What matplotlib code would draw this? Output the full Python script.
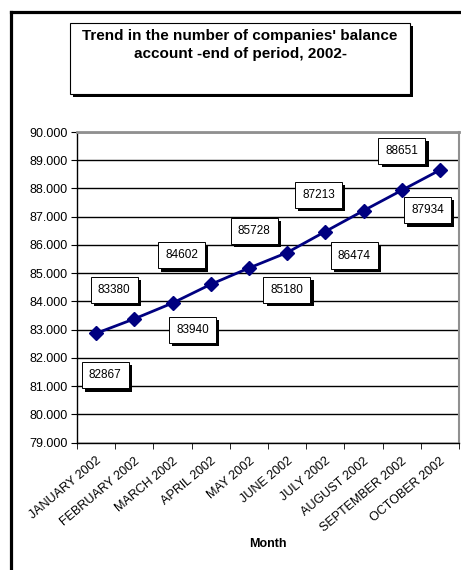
import numpy as np
import matplotlib
matplotlib.use("Agg")
import matplotlib.pyplot as plt
import matplotlib.patheffects as pe
from matplotlib.patches import Rectangle
from matplotlib.lines import Line2D
from matplotlib.ticker import FuncFormatter, FixedLocator

plt.rcParams['font.family'] = ['Liberation Sans', 'DejaVu Sans']

# data
months = ["JANUARY 2002", "FEBRUARY 2002", "MARCH 2002", "APRIL 2002", "MAY 2002",
          "JUNE 2002", "JULY 2002", "AUGUST 2002", "SEPTEMBER 2002", "OCTOBER 2002"]
companies = [82867, 83380, 83940, 84602, 85180, 85728, 86474, 87213, 87934, 88651]

# where each value box sits relative to its point (pixels)
label_offsets = [(9, -42), (-20, 29), (20, -27), (-29, 29), (38, -22),
                 (-33, 22), (29, -24), (-45, 16), (26, -20), (-38, 19)]

W, H = 461, 570
fig = plt.figure(figsize=(W / 100, H / 100), dpi=100)
fig.patch.set_facecolor('white')

# outer frame (only top and left show)
fig.add_artist(Line2D([11 / W, 11 / W], [0, 1 - 12 / H], color='black', lw=2.3, transform=fig.transFigure))
fig.add_artist(Line2D([11 / W, 1], [1 - 12 / H, 1 - 12 / H], color='black', lw=2.3, transform=fig.transFigure))

# title box with shadow
bx0, bx1, by0, by1 = 70, 410, 23, 94
fig.add_artist(Rectangle(((bx0 + 3) / W, 1 - (by1 + 3) / H), (bx1 - bx0) / W, (by1 - by0) / H,
                         transform=fig.transFigure, fc='black', ec='black', lw=0))
fig.add_artist(Rectangle((bx0 / W, 1 - by1 / H), (bx1 - bx0) / W, (by1 - by0) / H,
                         transform=fig.transFigure, fc='white', ec='black', lw=0.8))
fig.text(240 / W, 1 - 45 / H, "Trend in the number of companies' balance\naccount -end of period, 2002-",
         ha='center', va='center', fontsize=11, fontweight='bold', linespacing=1.3)

ax = fig.add_axes([77 / W, 1 - 442.5 / H, (459 - 77) / W, (442.5 - 132) / H])
x = np.arange(len(months))
ax.plot(x, companies, color='#000080', lw=2, marker='D', ms=7, mfc='#000080', mec='#000080', zorder=3)

for i, v in enumerate(companies):
    t = ax.annotate(str(v), (x[i], v), xytext=label_offsets[i], textcoords='offset pixels',
                    ha='center', va='center', fontsize=8.5, zorder=4,
                    bbox=dict(boxstyle='square,pad=0.6', fc='white', ec='black', lw=0.7))
    t.get_bbox_patch().set_path_effects([
        pe.SimplePatchShadow(offset=(2.3, -2.3), shadow_rgbFace='black', alpha=1.0),
        pe.Normal()])

ax.set_xlim(-0.5, len(months) - 0.5)
ax.set_ylim(79000, 90000)
ax.set_yticks(np.arange(79000, 90001, 1000))
ax.yaxis.set_major_formatter(FuncFormatter(lambda v, p: f"{v / 1000:.3f}"))
ax.yaxis.grid(True, color='black', lw=1)
ax.set_axisbelow(True)

ax.set_xticks(x)
ax.set_xticklabels(months, rotation=40, ha='right', va='top', rotation_mode='anchor', fontsize=9)
ax.xaxis.set_minor_locator(FixedLocator(np.arange(-0.5, len(months), 1)))
ax.tick_params(axis='x', which='major', length=0, pad=9)
ax.tick_params(axis='x', which='minor', length=4, color='black')
ax.tick_params(axis='y', length=4, labelsize=9, pad=3)

for s in ['left', 'bottom']:
    ax.spines[s].set_color('black')
    ax.spines[s].set_linewidth(1)
ax.spines['top'].set_color('#909090')
ax.spines['top'].set_linewidth(2)
ax.spines['right'].set_color('#909090')
ax.spines['right'].set_linewidth(1.5)

ax.set_xlabel("Month", fontsize=9, fontweight='bold', labelpad=3)

fig.savefig('out.png', dpi=100)
